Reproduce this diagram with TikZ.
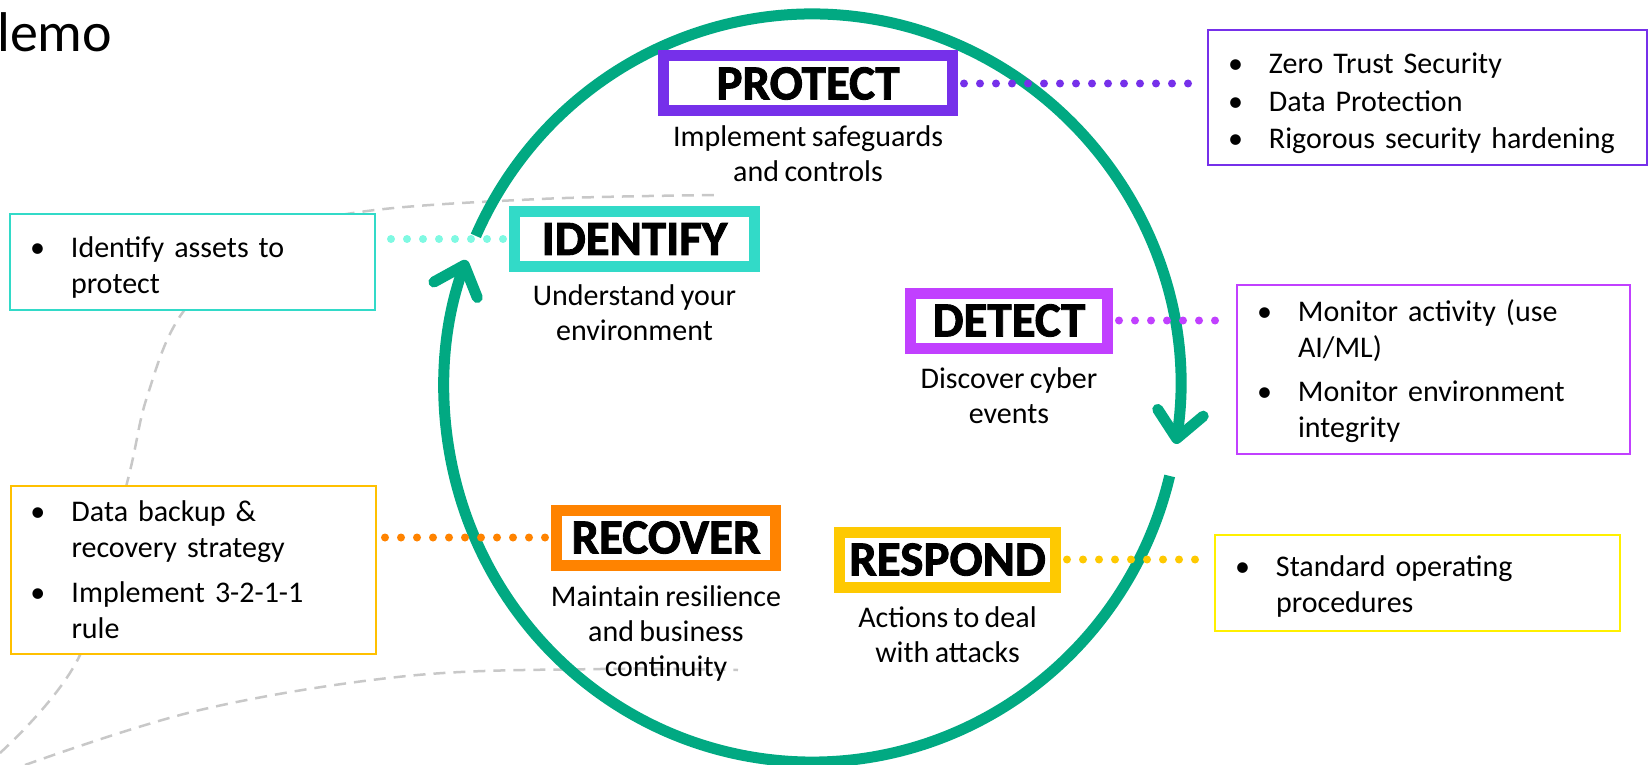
\documentclass[tikz,border=0pt]{standalone}
\usepackage{fontspec}
\setmainfont{Carlito}[WordSpace=0.8]
\newfontfamily\headfont{Carlito}[UprightFont={* Bold}, FakeBold=1.8]
\usepackage{tikz}
\usetikzlibrary{arrows.meta,positioning,calc}
\definecolor{ringgreen}{RGB}{1, 169, 130}
\definecolor{protectcol}{RGB}{118, 48, 234}
\definecolor{identifycol}{RGB}{50, 218, 200}
\definecolor{identifydot}{RGB}{127, 249, 226}
\definecolor{detectcol}{RGB}{193, 64, 255}
\definecolor{respondcol}{RGB}{254, 201, 1}
\definecolor{respondline}{RGB}{255, 240, 0}
\definecolor{recovercol}{RGB}{255, 131, 0}
\definecolor{recoverline}{RGB}{255, 192, 0}
\definecolor{trailgray}{RGB}{200, 200, 200}
\newcommand{\itembullet}{\makebox[41pt][l]{\textbullet}}
\newcommand{\itemcont}{\hspace*{41pt}}
\newcommand{\toppad}[1]{\rule{0pt}{#1}}

\begin{document}
\begin{tikzpicture}[
    x=1pt, y=1pt,
    phase/.style={draw, line width=11pt, fill=white, minimum height=55pt, inner sep=0pt, font=\headfont\fontsize{49}{49}\selectfont},
    note/.style={align=center, inner sep=0pt, font=\fontsize{30}{35}\selectfont},
    itemlist/.style={draw, line width=2pt, fill=white, align=left, inner xsep=20pt, inner ysep=0pt, font=\fontsize{30}{36}\selectfont},
    link/.style={line width=8pt, line cap=round, dash pattern=on 0pt off 16pt, shorten <=6pt, shorten >=6pt},
    ringarc/.style={draw=ringgreen, line width=11pt, -{Straight Barb[length=26pt, width=46pt, round]}},
    trail/.style={draw=trailgray, line width=2.5pt, dash pattern=on 12pt off 8pt}
]
    \useasboundingbox (0,0) rectangle (1651,-765);

    % Title
    \node[inner sep=0pt, anchor=base west, font=\fontsize{56}{56}\selectfont] (pagetitle) at (-3,-52) {lemo};

    % Background trails
    \draw[trail] plot[smooth, tension=0.6] coordinates {(0,-753) (80,-655) (127,-483) (147,-397) (183,-312) (260,-240) (360,-212) (540,-199) (720,-195)};
    \draw[trail] plot[smooth, tension=0.6] coordinates {(25,-765) (200,-710) (407,-676) (600,-669) (738,-670)};

    % Item lists
    \node[itemlist, draw=protectcol, text width=399pt, minimum height=134pt] (protectlist) at (1427.5,-97.5)
        {\toppad{33pt}\itembullet Zero Trust Security\\[1.5pt]\itembullet Data Protection\\[1.5pt]\itembullet Rigorous security hardening};
    \node[itemlist, draw=identifycol, text width=325pt, minimum height=96pt] (identifylist) at (192.5,-262)
        {\toppad{31pt}\itembullet Identify assets to\\\itemcont protect};
    \node[itemlist, draw=detectcol, text width=353pt, minimum height=169pt] (detectlist) at (1433.5,-369.5)
        {\toppad{25pt}\itembullet Monitor activity (use\\\itemcont AI/ML)\\[8pt]\itembullet Monitor environment\\\itemcont integrity};
    \node[itemlist, draw=respondline, text width=365pt, minimum height=96pt] (respondlist) at (1417.5,-583)
        {\toppad{27pt}\itembullet Standard operating\\\itemcont procedures};
    \node[itemlist, draw=recoverline, text width=325pt, minimum height=168pt] (recoverlist) at (193,-570)
        {\itembullet Data backup \&\\\itemcont recovery strategy\\[9pt]\itembullet Implement 3-2-1-1\\\itemcont rule};

    % Cycle
    \coordinate (hub) at (812,-388);
    \draw[ringarc] ($(hub)+(156:368 and 374)$) arc[start angle=156, end angle=-8.6, x radius=368, y radius=374];
    \draw[ringarc] ($(hub)+(-13.6:368 and 374)$) arc[start angle=-13.6, end angle=-200, x radius=368, y radius=374];

    % Phases
    \node[phase, draw=protectcol, minimum width=289pt] (protect) at (808,-83.5) {PROTECT};
    \node[phase, draw=identifycol, minimum width=240pt] (identify) at (634.5,-239) {IDENTIFY};
    \node[phase, draw=detectcol, minimum width=197pt] (detect) at (1009,-320.5) {DETECT};
    \node[phase, draw=respondcol, minimum width=216pt] (respond) at (947.5,-559.5) {RESPOND};
    \node[phase, draw=recovercol, minimum width=219pt] (recover) at (666,-537.5) {RECOVER};

    \node[note, below=9pt of protect] (protectnote) {Implement safeguards\\and controls};
    \node[note, below=12pt of identify] (identifynote) {Understand your\\environment};
    \node[note, below=14pt of detect] (detectnote) {Discover cyber\\events};
    \node[note, below=14pt of respond] (respondnote) {Actions to deal\\with attacks};
    \node[note, below=15pt of recover] (recovernote) {Maintain resilience\\and business\\continuity};

    % Links
    \draw[link, draw=protectcol] (protect.east) -- (protect.east -| protectlist.west);
    \draw[link, draw=identifydot] (identify.west) -- (identify.west -| identifylist.east);
    \draw[link, draw=detectcol] (detect.east) -- (detect.east -| detectlist.west);
    \draw[link, draw=respondcol] (respond.east) -- (respond.east -| respondlist.west);
    \draw[link, draw=recovercol] (recover.west) -- (recover.west -| recoverlist.east);

\end{tikzpicture}
\end{document}
